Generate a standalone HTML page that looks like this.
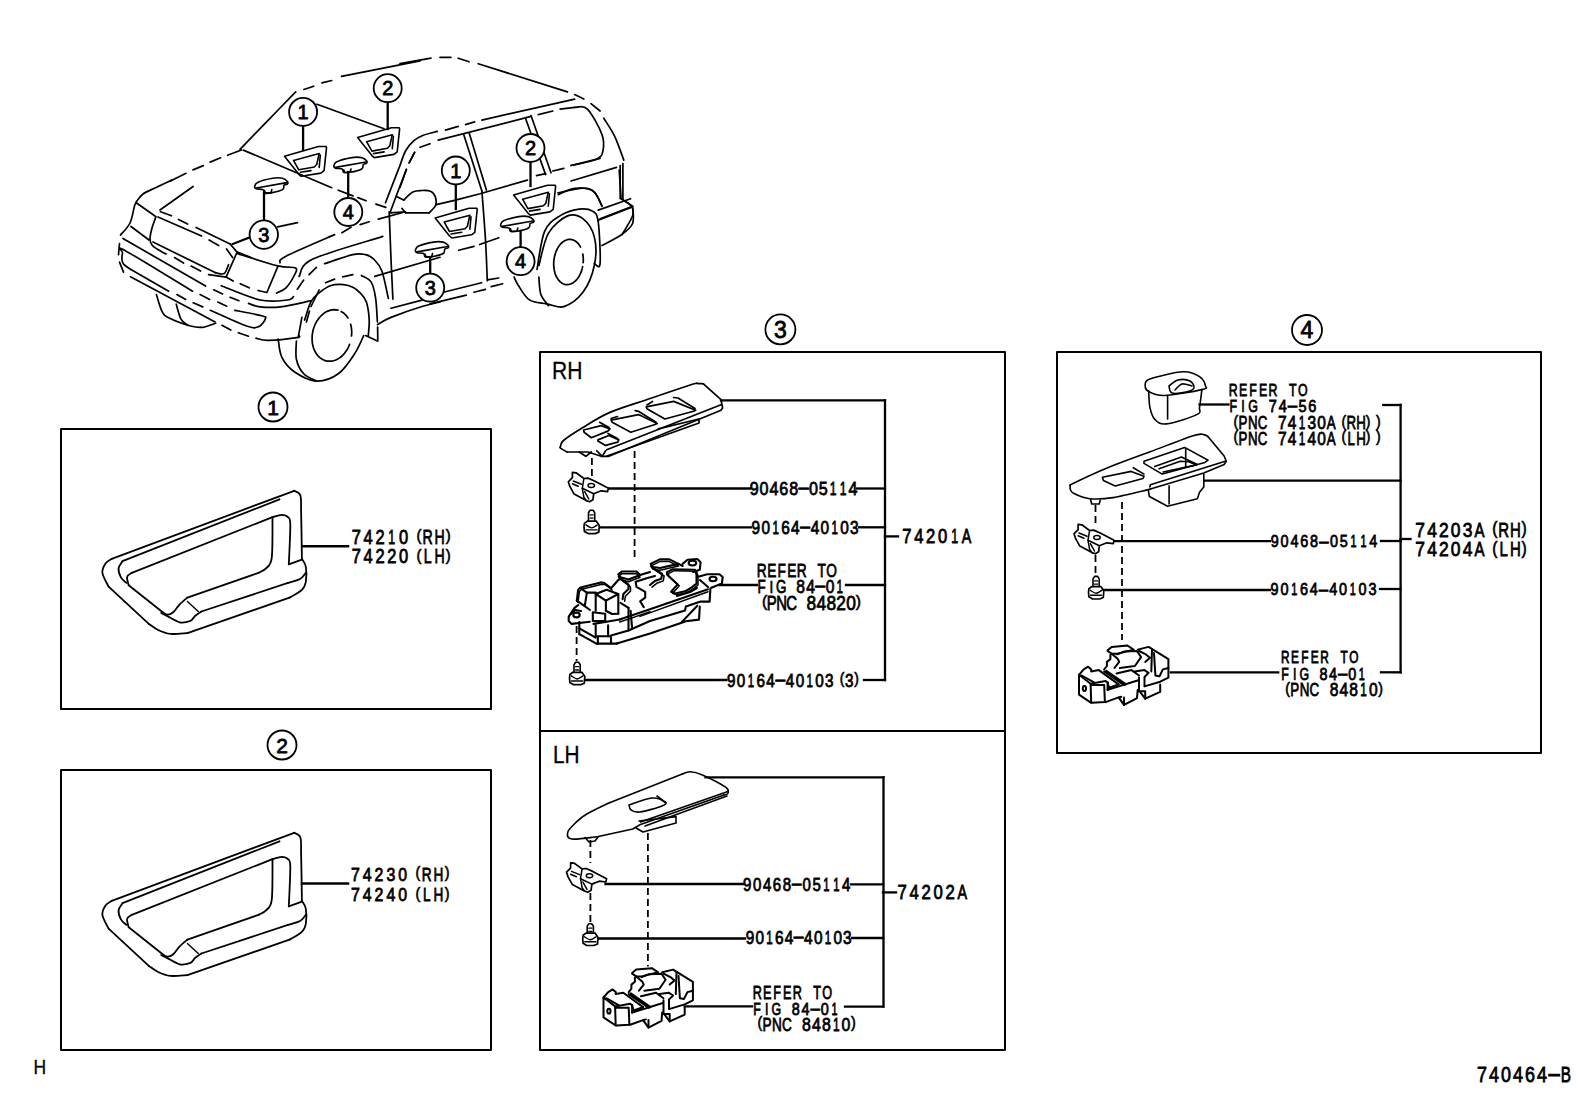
<!DOCTYPE html>
<html><head><meta charset="utf-8"><style>
html,body{margin:0;padding:0;background:#fff;width:1592px;height:1099px;overflow:hidden}
svg{display:block}
text{font-family:"Liberation Sans",sans-serif;fill:#000;stroke:#000;stroke-width:0.8px}
</style></head><body>
<svg width="1592" height="1099" viewBox="0 0 1592 1099">
<rect width="1592" height="1099" fill="#fff"/>
<g fill="none" stroke="#000" stroke-width="1.8" stroke-linecap="round" stroke-linejoin="round">
<g stroke-width="2">
<path d="M61 429 L491 429 L491 709 L61 709Z"/>
<path d="M61 770 L491 770 L491 1050 L61 1050Z"/>
<path d="M540 352 L1005 352 L1005 1050 L540 1050Z" stroke-width="2"/>
<path d="M540 731 L1005 731" stroke-width="2"/>
<path d="M1057 352 L1541 352 L1541 753 L1057 753Z" stroke-width="2"/>
</g>
<g stroke-width="1.7">
<path d="M136.5 201.5 C137.6 200.3 139.9 196.3 143 194 C146.1 191.8 150.2 190.3 155 188 C159.9 185.7 169.2 181.3 172 180"/>
<path d="M170.5 181.1 L186 173.3"/>
<path d="M193 169.9 L203.3 165.6"/>
<path d="M210.2 162.1 L220.6 157.8"/>
<path d="M227.5 155.2 L241.4 150"/>
<path d="M240 149.3 C244.6 144.5 258.6 130.1 267.8 120.6 C277.1 111 291 96.7 295.7 91.9"/>
<path d="M303.9 89.5 L313.7 86.2"/>
<path d="M321.9 82.9 L331.7 80.5"/>
<path d="M341.5 76.4 L420 60.8"/>
<path d="M400 63.7 L430.9 58.2"/>
<path d="M440 57.3 L450.9 57.3"/>
<path d="M458.2 58.2 L469.1 61.8"/>
<path d="M478.2 63.7 L567.4 91.9"/>
<path d="M574.7 94.6 L583.8 99.1"/>
<path d="M591 103.7 L600.1 111"/>
<path d="M603.8 118.2 C605.6 121.3 611.4 129.5 614.7 136.4 C618 143.4 622.3 156.1 623.8 160.1"/>
<path d="M243.3 150.1 L331.7 187.7"/>
<path d="M338.3 190.2 L353 195.9"/>
<path d="M357.9 197.6 L366.1 200.8"/>
<path d="M375.9 204.1 L385.8 207.4"/>
<path d="M317 104.2 L384.1 128.8"/>
<path d="M277.6 226.9 L297.5 222.6"/>
<path d="M232.7 244.2 L248.3 238.1"/>
<path d="M160 210 L193.1 186.5"/>
<path d="M136.5 201.5 C136.2 202.3 135.6 202.4 134.5 206 C133.4 209.6 132.3 218.2 130 223 C127.7 227.9 122.1 233 120.5 235"/>
<path d="M136.5 203 L155 216"/>
<path d="M160.5 211.8 L171.5 215.8"/>
<path d="M178.5 219.5 L187.6 224"/>
<path d="M196.1 227.5 L230.1 244"/>
<path d="M158 217 L201.6 236"/>
<path d="M209.1 240 L218.6 245.5"/>
<path d="M226.6 249 L232.6 257.6"/>
<path d="M156 216.5 C155.4 218.4 153 224.3 152 228 C151 231.8 150 236.2 150 239 C150 241.9 150.9 243.4 152 245 C153.2 246.7 154.7 247.5 157 249 C159.4 250.5 164.5 253.2 166 254.1"/>
<path d="M153 242 L215.1 272.6"/>
<path d="M215.1 272.6 C216.6 272.7 221.8 274.9 224.1 273.6 C226.3 272.2 227.8 266.1 228.6 264.6"/>
<path d="M174.5 257.6 L183.6 263.1"/>
<path d="M191.1 266.1 L200.6 271.1"/>
<path d="M208.6 274.6 L226.1 277.1"/>
<path d="M230.1 244 L237.1 252.1 L250 257.1"/>
<path d="M237.1 252.1 L226.1 277.1 L233.1 281.1"/>
<path d="M232.1 244 L250 237"/>
<path d="M131 226.5 L149 240"/>
<path d="M123 238.5 L205.6 286.1"/>
<path d="M119.5 243.5 L118.5 254.6"/>
<path d="M119.5 262.1 L123.5 272.1"/>
<path d="M192.5 291.2 C181.4 284.5 137.4 257.3 125.7 250.9 C114 244.5 123 250.9 122.6 253 C122.1 255 121.6 260.5 123 263.2 C124.3 265.9 129.2 268.3 130.5 269.3"/>
<path d="M130.5 269.3 L168.7 291.2"/>
<path d="M130.5 276.8 L215.1 321.9"/>
<path d="M156.4 294.6 C157.3 297.3 159.8 307.1 161.8 311 C163.9 314.8 163.9 315.3 168.7 317.8 C173.4 320.3 184.8 324.4 190.5 326 C196.2 327.6 198.6 327.8 202.8 327.3 C207 326.9 213.6 323.9 215.7 323.2"/>
<path d="M176.2 304.1 C177 306.6 179 315.6 181 319.1 C182.9 322.7 186.6 324.3 187.8 325.3"/>
<path d="M176.9 294.6 L185.7 299.4"/>
<path d="M193.2 302.8 L202.8 306.9"/>
<path d="M200.1 294.6 L209.6 299.4"/>
<path d="M213.7 289.8 L222.6 293.9"/>
<path d="M217.8 302.1 L226.7 306.2"/>
<path d="M221.9 325.3 L230.8 330.1"/>
<path d="M238.3 332.8 L248.5 336.2"/>
<path d="M230.1 297.3 L238.9 300.7"/>
<path d="M240.3 283.7 L249.2 287.8"/>
<path d="M234.8 310.3 C239.3 311.2 256.3 314.4 261.5 315.7 C266.6 317.1 266 316.6 265.5 318.5 C265.1 320.3 261.9 325.4 258.7 326.6 C255.5 327.9 254.5 328.7 246.4 326 C238.4 323.2 216.3 312.9 210.3 310.3"/>
<path d="M221.2 285.7 C227.7 288.1 249.1 297.6 260.1 300 C271.1 302.4 281.8 300.6 287.4 300 C292.9 299.5 292.5 297.2 293.5 296.6"/>
<path d="M248.5 303.4 C250.4 304 254.7 306.3 260.1 306.9 C265.4 307.4 272 307.9 280.6 306.9 C289.1 305.8 306.1 301.7 311.3 300.7"/>
<path d="M256 338.2 C258 338.6 261.5 340.4 268.3 340.3 C275.1 340.2 291.8 338.4 296.9 337.6 C302 336.8 298.6 335.9 299 335.5"/>
<path d="M237.6 253.6 C244.3 255.7 268.2 263.5 277.8 265.9 C287.5 268.3 292.8 266.4 295.6 268 C298.3 269.6 295.8 272.2 294.2 275.5 C292.6 278.8 289 284.8 286 287.8 C283.1 290.7 278.1 292.3 276.5 293.2"/>
<path d="M277.8 266.6 L266.9 292.5 L258 290.5"/>
<path d="M280 262.8 C280.9 261.7 276.4 261.1 285.5 256.4 C294.6 251.7 326.4 238.2 334.6 234.6"/>
<path d="M341.9 232.8 L351 227.3"/>
<path d="M360.1 224.6 L369.2 221.8"/>
<path d="M378.3 219.1 L402 212.7"/>
<path d="M299.1 276.4 C301.4 273.5 298.9 265.8 312.8 259.1 C326.8 252.4 371.1 240.2 382.8 236.4"/>
<path d="M324.6 263.7 C329.3 262.2 346 256.1 352.8 254.6 C359.6 253.1 362 253.8 365.5 254.6 C369 255.3 371 256.4 373.7 259.1 C376.4 261.8 379.5 264.5 381.9 271 C384.3 277.5 387.2 293.8 388.3 298.3"/>
<path d="M309.1 274.6 L316.4 267.3"/>
<path d="M297.3 289.2 L303.7 280.1"/>
<path d="M325.5 282.8 L334.6 279.1"/>
<path d="M342.8 276.9 L352.8 274.6"/>
<path d="M361.4 275.5 C363 276.6 368.6 278.3 371 281.9 C373.4 285.5 374.4 290.6 375.5 297.3 C376.6 304 377.1 317.9 377.4 322"/>
<path d="M377.6 327 L377.8 341"/>
<path d="M304.6 320 C305.7 317 308.5 306.4 310.9 301.9 C313.3 297.4 315.8 295.5 319.1 292.8 C322.5 290.1 326.9 286.9 331 285.5 C335.1 284.1 340.1 284.3 343.7 284.6 C347.3 284.9 350.1 285.9 352.8 287.3 C355.5 288.7 357.8 290.4 360.1 292.8 C362.4 295.2 364.9 297.4 366.4 301.9 C367.9 306.4 368.9 314.4 369.2 320 C369.5 325.6 368.4 333 368.3 335.6"/>
<path d="M319.1 290 L311 306.5"/>
<path d="M309.5 311 L306.4 322"/>
<path d="M298.2 337.4 L301.9 317.4"/>
<path d="M365.6 335.6 L377.4 341"/>
<path d="M377.4 324.7 C379.7 323.5 383.6 320.4 391 317.4 C398.5 314.4 413.8 309 422 306.5 C430.1 303.9 437 302.7 440 301.9"/>
<path d="M391 308.3 L422 300.1 L440 295.6"/>
<path d="M278.2 339.2 C278.8 342.3 279.1 352 281.9 357.4 C284.6 362.9 288.8 368 294.6 372 C300.4 375.9 309.2 380.8 316.4 381.1 C323.7 381.4 331.9 378.4 338.3 373.8 C344.6 369.3 350.4 360.2 354.6 353.8 C358.9 347.4 362.2 338.6 363.7 335.6"/>
<path d="M296.4 341 C296.4 344.1 295.2 353.8 296.4 359.2 C297.6 364.7 300.4 370.2 303.7 373.8 C307 377.4 314.3 379.9 316.4 381.1"/>
<path d="M349.6 344.3 L348.6 346.8 L347.4 349.1 L346 351.3 L344.5 353.3 L342.8 355.1 L341.1 356.8 L339.2 358.1 L337.3 359.3 L335.3 360.2 L333.2 360.8 L331.2 361.2 L329.1 361.2 L327.1 361.1 L325.2 360.6 L323.3 359.8 L321.5 358.8 L319.8 357.6 L318.2 356.1 L316.8 354.4 L315.6 352.5 L314.5 350.4 L313.6 348.2 L312.9 345.8 L312.4 343.3 L312.1 340.7 L312.1 338.1 L312.2 335.4 L312.6 332.7 L313.1 330.1 L313.9 327.5 L314.9 325 L316 322.7 L317.3 320.4 L318.8 318.4 L320.4 316.5 L322.1 314.8 L323.9 313.3 L325.9 312.1 L327.8 311.1 L329.9 310.4 L331.9 309.9 L334 309.7 L336 309.9 L338 310.2"/>
<path d="M341.2 311.5 L342.7 312.4 L344.2 313.5 L345.5 314.8 L346.8 316.3 L347.9 318"/>
<path d="M350.6 324.2 L351.2 326.5 L351.5 328.8 L351.7 331.1 L351.7 333.6 L351.5 336"/>
<path d="M389.2 211.8 C389.5 219.7 390.4 244.6 391 259.2 C391.7 273.7 392.6 292.5 392.9 299.2"/>
<path d="M374.7 276.4 L440 257.3"/>
<path d="M437.3 131.4 C434.9 132.1 426.6 133.9 422.7 135.5 C418.8 137.1 416.5 138.3 413.6 140.9 C410.7 143.5 407.8 146.9 405.5 151 C403.2 155.1 401.5 161.6 400 165.5 C398.5 169.4 398.8 168.4 396.4 174.6 C394 180.8 387.3 198.1 385.5 202.8"/>
<path d="M420 147.3 L430 143.7"/>
<path d="M409.1 162.8 L414.6 152.3"/>
<path d="M400 187.4 L406.4 169.2"/>
<path d="M414.6 152.3 L409.1 162.8"/>
<path d="M406.4 169.6 C404.7 173.9 399.1 188.3 396.4 195.5 C393.7 202.7 391.1 209.9 390 212.8"/>
<path d="M445.5 130.1 L458.2 126.4"/>
<path d="M465.5 124.6 L474.6 121.9"/>
<path d="M481.9 120.1 L574.7 99.1"/>
<path d="M438.2 140.1 L531 116.4"/>
<path d="M538.3 114.6 L552.8 111"/>
<path d="M560.1 109.1 L574.7 107.3"/>
<path d="M463.7 134.6 L481.9 191"/>
<path d="M469.1 132.8 L486.4 190.1"/>
<path d="M481.9 191 C482.5 199.2 484.6 225 485.5 240 C486.4 255 487 274 487.3 280.8"/>
<path d="M525.5 118.2 L545.6 174.6"/>
<path d="M531 115.5 L551 172.8"/>
<path d="M436.4 204.6 L455.5 200.1 L480.1 193.7 L527.4 180.1"/>
<path d="M536.5 175.6 L545.6 173.7"/>
<path d="M552.8 171 L563.8 168.3"/>
<path d="M571 165.5 L600.1 158.3"/>
<path d="M571 181 L616.5 167.4"/>
<path d="M574.7 107.3 C576.8 107.6 582.9 104.6 587.4 109.1 C592 113.7 599.4 127.6 602 134.6 C604.5 141.6 603.8 146.9 602.9 151 C602 155.1 601.8 156.8 596.5 159.2 C591.2 161.6 575.3 164.5 571 165.5"/>
<path d="M620.2 165.5 L620.2 198.3"/>
<path d="M622.9 163.7 L622.9 200.1"/>
<path d="M620.2 198.3 C622 199.5 629 202.8 631.1 205.6 C633.2 208.3 633.5 211.3 632.9 214.7 C632.3 218 629.3 222.3 627.4 225.6 C625.6 228.9 622.9 233.2 622 234.7"/>
<path d="M598.3 220.1 L631.1 207.4"/>
<path d="M558.3 194.7 C561 193.6 568.9 188.9 574.7 188.3 C580.4 187.7 588.3 188.1 592.9 191 C597.4 193.9 600.4 203.1 602 205.6"/>
<path d="M396.4 196.4 L403.7 200.1"/>
<path d="M403.7 200.1 C405.2 198.7 409.8 193.5 412.8 191.9 C415.8 190.3 418.9 190.6 421.9 190.5 C424.9 190.4 428.7 190.3 431 191.4 C433.3 192.5 434.8 195 435.5 197.3 C436.2 199.7 436.6 202.9 435.5 205.5 C434.4 208.1 430.2 211.6 429.2 212.8"/>
<path d="M429.2 212.8 L405.5 212.8"/>
<path d="M405.5 212.8 L401.9 208.3"/>
<path d="M390 212.8 L405.5 211.9"/>
<path d="M458.7 250.3 L474 246.4"/>
<path d="M479.7 244.5 L498.8 237.8"/>
<path d="M430 303.8 L466.3 295.2"/>
<path d="M474 292.3 L485.4 289.4"/>
<path d="M491.2 286.6 L502.6 283.7"/>
<path d="M443.4 292.3 L481.6 282.7"/>
<path d="M487.3 279.9 L498.8 278"/>
<path d="M537 269.4 C538.3 263 540.8 240.1 544.7 231.2 C548.5 222.2 554.2 219.5 559.9 215.9 C565.7 212.2 573.6 210 579.1 209.2 C584.5 208.4 589.2 209 592.4 211.1 C595.6 213.2 596.9 212.8 598.2 221.6 C599.4 230.4 600.7 256.6 600.1 263.6 C599.4 270.6 595.3 263.6 594.3 263.6"/>
<path d="M538.9 265.5 C540.5 260.1 543.7 241.3 548.5 233.1 C553.3 224.8 561.9 218.3 567.6 215.9 C573.3 213.5 578.4 215.2 582.9 218.7 C587.3 222.2 592.4 229.1 594.3 236.9 C596.3 244.7 596.3 256.3 594.3 265.5 C592.4 274.8 588 285.5 582.9 292.3 C577.8 299.1 569.8 304.7 563.8 306.6 C557.7 308.5 552.3 304.9 546.6 303.8 C540.8 302.7 534.1 303.1 529.4 299.9 C524.6 296.8 520.5 288.5 517.9 284.7 C515.4 280.8 514.7 278.3 514.1 277"/>
<path d="M538.9 277 C539.2 279.9 539.2 289.4 540.8 294.2 C542.4 299 547.2 303.8 548.5 305.7"/>
<path d="M582.6 266.7 L582.1 268.9 L581.5 271.1 L580.6 273.2 L579.7 275.1 L578.7 277 L577.5 278.6 L576.2 280.1 L574.9 281.4 L573.5 282.5 L572 283.4 L570.5 284 L569 284.4 L567.5 284.6 L566 284.6 L564.5 284.3 L563 283.7 L561.6 282.9 L560.3 281.9 L559.1 280.7 L558 279.3 L557 277.8 L556.1 276 L555.3 274.1 L554.7 272.1 L554.2 269.9 L553.9 267.7 L553.7 265.4 L553.7 263.1 L553.8 260.8 L554.2 258.5 L554.6 256.2 L555.2 254 L555.9 251.8 L556.8 249.8 L557.8 247.9 L558.9 246.2 L560.1 244.6 L561.4 243.2 L562.8 242 L564.3 241 L565.7 240.3 L567.3 239.7 L568.8 239.4 L570.3 239.4 L571.8 239.6 L573.3 240 L574.7 240.7 L576 241.5 L577.3 242.6 L578.5 243.9 L579.6 245.4 L580.5 247.1"/>
<path d="M582.8 254.2 L583.1 256.3 L583.3 258.4 L583.3 260.6 L583.2 262.7"/>
<path d="M558 192.9 C562.2 192.1 576.8 188.3 582.9 188.2 C588.9 188 591.2 189 594.3 192 C597.5 195 600.7 203.9 602 206.3"/>
<path d="M600.1 218.7 L632.6 206.3"/>
<path d="M632.6 206.3 C632.6 209.2 634.5 218.7 632.6 223.5 C630.6 228.3 626.2 231.3 621.1 235 C616 238.6 605.2 243.7 602 245.5"/>
<path d="M619.2 170 L621.1 198.7 L632.6 206.3"/>
<path d="M598.2 210.1 L630.6 198.7"/>
</g>
<g stroke-width="1.6">
<path d="M284.5 156.3 L318.4 146.5 L326.1 146.5 L326.5 147.8 L324.1 170.6 L320.8 173.1 L301.2 176.3 L298.8 174.3Z"/>
<path d="M293.5 160.4 L319.2 153.5 L316.7 164.5 L314.3 167 L298.8 169.8Z"/>
<path d="M320.3 155 L319.2 167.4"/>
<path d="M300.4 172.3 L311 170.6"/>
<path d="M357.6 137.6 L391.5 127.8 L399.2 127.8 L399.6 129.1 L397.2 151.9 L393.9 154.4 L374.3 157.6 L371.9 155.6Z"/>
<path d="M366.6 141.7 L392.3 134.8 L389.8 145.8 L387.4 148.3 L371.9 151.1Z"/>
<path d="M393.4 136.3 L392.3 148.7"/>
<path d="M373.5 153.6 L384.1 151.9"/>
<path d="M435.2 218 L469.1 208.2 L476.8 208.2 L477.2 209.5 L474.8 232.3 L471.5 234.8 L451.9 238 L449.5 236Z"/>
<path d="M444.2 222.1 L469.9 215.2 L467.4 226.2 L465 228.7 L449.5 231.5Z"/>
<path d="M471 216.7 L469.9 229.1"/>
<path d="M451.1 234 L461.7 232.3"/>
<path d="M513.6 195.1 L547.5 185.3 L555.2 185.3 L555.6 186.6 L553.2 209.4 L549.9 211.9 L530.3 215.1 L527.9 213.1Z"/>
<path d="M522.6 199.2 L548.3 192.3 L545.8 203.3 L543.4 205.8 L527.9 208.6Z"/>
<path d="M549.4 193.8 L548.3 206.2"/>
<path d="M529.5 211.1 L540.1 209.4"/>
<path d="M333.9 165.7 C334.2 164.6 334.2 162.9 337.2 161.6 C340.2 160.2 347.8 158.3 351.9 157.6 C356 156.9 359.2 157.1 361.7 157.6 C364.1 158.1 365.8 159.9 366.6 160.8 C367.4 161.8 367.2 162.7 366.6 163.3 C366.1 163.9 364.1 163.6 363.3 164.5 C362.5 165.4 363.9 167.7 361.7 169 C359.5 170.3 353.2 171.8 350.2 172.3 C347.2 172.9 345 172.9 343.7 172.3 C342.4 171.8 343.5 169.7 342.1 169 C340.7 168.3 336.9 168.8 335.5 168.2 C334.1 167.6 333.6 166.8 333.9 165.7Z"/>
<path d="M335.5 167.4 L366 162"/>
<path d="M343.7 169.8 L344.5 172.3 L350.2 172.3 L351 169"/>
<path d="M254.7 186.3 C255 185.2 255 183.5 258 182.2 C261 180.8 268.6 178.9 272.7 178.2 C276.8 177.5 280.1 177.7 282.5 178.2 C284.9 178.7 286.6 180.4 287.4 181.4 C288.2 182.4 288 183.3 287.4 183.9 C286.9 184.5 284.9 184.2 284.1 185.1 C283.3 186 284.7 188.3 282.5 189.6 C280.3 190.9 274 192.3 271 192.9 C268 193.5 265.9 193.5 264.5 192.9 C263.1 192.3 264.3 190.3 262.9 189.6 C261.5 188.9 257.7 189.3 256.3 188.8 C254.9 188.2 254.4 187.4 254.7 186.3Z"/>
<path d="M256.3 188 L286.8 182.6"/>
<path d="M264.5 190.4 L265.3 192.9 L271 192.9 L271.8 189.6"/>
<path d="M415.4 250.2 C415.7 249.1 415.7 247.4 418.7 246.1 C421.7 244.8 429.3 242.8 433.4 242.1 C437.5 241.4 440.8 241.6 443.2 242.1 C445.6 242.6 447.3 244.4 448.1 245.3 C448.9 246.2 448.7 247.2 448.1 247.8 C447.6 248.4 445.6 248.1 444.8 249 C444 249.9 445.4 252.2 443.2 253.5 C441 254.8 434.7 256.2 431.7 256.8 C428.7 257.4 426.5 257.4 425.2 256.8 C423.9 256.2 425 254.2 423.6 253.5 C422.2 252.8 418.4 253.2 417 252.7 C415.6 252.1 415.1 251.3 415.4 250.2Z"/>
<path d="M417 251.9 L447.5 246.5"/>
<path d="M425.2 254.3 L426 256.8 L431.7 256.8 L432.5 253.5"/>
<path d="M500.7 224.7 C501 223.6 501 221.9 504 220.6 C507 219.2 514.6 217.3 518.7 216.6 C522.8 215.9 526 216.1 528.5 216.6 C531 217.1 532.6 218.9 533.4 219.8 C534.2 220.8 534 221.7 533.4 222.3 C532.9 222.9 530.9 222.6 530.1 223.5 C529.3 224.4 530.7 226.7 528.5 228 C526.3 229.3 520 230.8 517 231.3 C514 231.9 511.9 231.9 510.5 231.3 C509.1 230.8 510.3 228.7 508.9 228 C507.5 227.3 503.7 227.8 502.3 227.2 C500.9 226.6 500.4 225.8 500.7 224.7Z"/>
<path d="M502.3 226.4 L532.8 221"/>
<path d="M510.5 228.8 L511.3 231.3 L517 231.3 L517.8 228"/>
</g>
<g stroke-width="2.3" stroke-linecap="square">
<path d="M302.4 546.2 L348 546.2" stroke-width="2.5"/>
<path d="M302 883.6 L348 883.6" stroke-width="2.5"/>
<path d="M721 400.4 L885 400.4"/>
<path d="M885 400.4 L885 680"/>
<path d="M607.5 488.5 L750 488.5"/>
<path d="M857 488.5 L885 488.5"/>
<path d="M599.3 527.4 L751 527.4"/>
<path d="M859 527.3 L885 527.3"/>
<path d="M885 536.4 L898 536.4"/>
<path d="M720 585 L757 585"/>
<path d="M846 585 L885 585"/>
<path d="M584.8 680 L726.4 680"/>
<path d="M864 680 L885 680"/>
<path d="M705.5 777.3 L883.5 777.3"/>
<path d="M883.5 777.3 L883.5 1006.7"/>
<path d="M605.5 884 L743 884"/>
<path d="M851 884.4 L883 884.4"/>
<path d="M598 938.5 L745 938.5"/>
<path d="M852 938 L883 938"/>
<path d="M883 892.4 L896 892.4"/>
<path d="M684.7 1006.3 L752 1006.3"/>
<path d="M845 1006.7 L883 1006.7"/>
<path d="M1199.5 404.5 L1228.5 404.5"/>
<path d="M1383.3 405 L1400.6 405"/>
<path d="M1400.6 405 L1400.6 672.3"/>
<path d="M1204.3 480.6 L1400.6 480.6"/>
<path d="M1112.5 541.2 L1270 541.2"/>
<path d="M1381 541 L1400.6 541"/>
<path d="M1400.6 539 L1410.5 539"/>
<path d="M1103.8 590 L1270 590"/>
<path d="M1380 589 L1400.6 589"/>
<path d="M1170.8 672.3 L1278.2 672.3"/>
<path d="M1381 672.3 L1400.6 672.3"/>
<path d="M303.1 126 L303.1 150"/>
<path d="M387.7 102.4 L387.7 129"/>
<path d="M348.2 197.8 L348.2 172"/>
<path d="M264 220 L264 193"/>
<path d="M455.8 184.5 L455.8 209"/>
<path d="M530.5 162 L530.5 186"/>
<path d="M430.2 273.5 L430.2 257"/>
<path d="M520.6 247 L520.6 231"/>
</g>
<g stroke-width="1.8" stroke-dasharray="7 4" stroke-linecap="butt">
<path d="M591.9 458 L591.9 476"/>
<path d="M634.6 451 L634.6 560"/>
<path d="M576.6 626 L576.6 661"/>
<path d="M590.4 840 L590.4 863"/>
<path d="M590.4 893 L590.4 923"/>
<path d="M647.9 833 L647.9 966.5"/>
<path d="M1095.5 505 L1095.5 524"/>
<path d="M1095.5 555 L1095.5 576"/>
<path d="M1122 502 L1122 640"/>
</g>
<path d="M588.5 521.9 L588.5 512.8 L590.1 510.3 L593.1 510.3 L594.7 512.8 L594.7 521.9" stroke-width="1.6"/><path d="M590.1 514.8 L593.1 514.8" stroke-width="1.3"/><path d="M590.1 518.1 L593.1 518.1" stroke-width="1.3"/><path d="M584.4 523.4 L587.3 521.2 L596.4 521.2 L599.3 525.5 L598.8 532.1 L595.1 533.6 L588.1 533.6 L584.4 531.4 L584 526.9Z" stroke-width="1.7" fill="#fff"/><path d="M585.9 524.9 C586.9 525.4 589.7 527.9 591.6 527.9 C593.5 527.9 596.4 525.4 597.3 524.9" stroke-width="1.4"/><path d="M586.1 529.9 L597.1 529.9" stroke-width="1.4"/>
<path d="M574 673 L574 664.7 L575.6 662.2 L578.6 662.2 L580.2 664.7 L580.2 673" stroke-width="1.6"/><path d="M575.6 666.7 L578.6 666.7" stroke-width="1.3"/><path d="M575.6 670 L578.6 670" stroke-width="1.3"/><path d="M569.9 674.5 L572.8 672.3 L581.9 672.3 L584.8 676.6 L584.3 683.2 L580.6 684.7 L573.6 684.7 L569.9 682.5 L569.5 678Z" stroke-width="1.7" fill="#fff"/><path d="M571.4 676 C572.4 676.5 575.2 679 577.1 679 C579 679 581.9 676.5 582.8 676" stroke-width="1.4"/><path d="M571.6 681 L582.6 681" stroke-width="1.4"/>
<path d="M587.2 933.8 L587.2 926.2 L588.8 923.7 L591.8 923.7 L593.4 926.2 L593.4 933.8" stroke-width="1.6"/><path d="M588.8 928.2 L591.8 928.2" stroke-width="1.3"/><path d="M588.8 931.5 L591.8 931.5" stroke-width="1.3"/><path d="M583.1 935.3 L586 933.1 L595.1 933.1 L598 937.4 L597.5 944 L593.8 945.5 L586.8 945.5 L583.1 943.3 L582.7 938.8Z" stroke-width="1.7" fill="#fff"/><path d="M584.6 936.8 C585.5 937.3 588.4 939.8 590.3 939.8 C592.2 939.8 595 937.3 596 936.8" stroke-width="1.4"/><path d="M584.8 941.8 L595.8 941.8" stroke-width="1.4"/>
<path d="M1093 587.3 L1093 578.9 L1094.6 576.4 L1097.6 576.4 L1099.2 578.9 L1099.2 587.3" stroke-width="1.6"/><path d="M1094.6 580.9 L1097.6 580.9" stroke-width="1.3"/><path d="M1094.6 584.2 L1097.6 584.2" stroke-width="1.3"/><path d="M1088.9 588.8 L1091.8 586.6 L1100.9 586.6 L1103.8 590.9 L1103.3 597.5 L1099.6 599 L1092.6 599 L1088.9 596.8 L1088.5 592.3Z" stroke-width="1.7" fill="#fff"/><path d="M1090.4 590.3 C1091.3 590.8 1094.2 593.3 1096.1 593.3 C1098 593.3 1100.8 590.8 1101.8 590.3" stroke-width="1.4"/><path d="M1090.6 595.3 L1101.6 595.3" stroke-width="1.4"/>
<path d="M572.4 472.4 L576.1 472.8 L583.9 478.5 L588 478.1 L594.5 481 L608.4 488.3 L607.6 491.6 L601.1 490.8 L593.7 493.7 L592.9 499.8 L589.6 501.8 L586.3 500.6 L574.1 494.1 L570 486.7 L568.3 481.8 L572.4 477.7Z" stroke-width="1.7" fill="#fff"/><path d="M583.9 478.5 L582.3 488.3 L583.9 497.3 L586.3 500.6" stroke-width="1.5"/><path d="M582.3 488.3 L593.7 493.7" stroke-width="1.5"/><path d="M573.3 481 L581.4 484.2" stroke-width="1.5"/><path d="M572.4 483.8 L578.2 486.3" stroke-width="1.5"/><path d="M584.7 491.6 L588.8 499" stroke-width="1.5"/><ellipse cx="591.2599018003273" cy="485.46743044189856" rx="3.2" ry="2" stroke-width="1.5"/>
<path d="M570.6 862.8 L574.3 863.2 L582.1 868.9 L586.2 868.5 L592.7 871.4 L606.6 878.7 L605.8 882 L599.3 881.2 L591.9 884.1 L591.1 890.2 L587.8 892.2 L584.5 891 L572.3 884.5 L568.2 877.1 L566.5 872.2 L570.6 868.1Z" stroke-width="1.7" fill="#fff"/><path d="M582.1 868.9 L580.5 878.7 L582.1 887.7 L584.5 891" stroke-width="1.5"/><path d="M580.5 878.7 L591.9 884.1" stroke-width="1.5"/><path d="M571.5 871.4 L579.6 874.6" stroke-width="1.5"/><path d="M570.6 874.2 L576.4 876.7" stroke-width="1.5"/><path d="M582.9 882 L587 889.4" stroke-width="1.5"/><ellipse cx="589.4599018003273" cy="875.8674304418985" rx="3.2" ry="2" stroke-width="1.5"/>
<path d="M1078.1 524.4 L1081.8 524.8 L1089.6 530.5 L1093.7 530.1 L1100.2 533 L1114.1 540.3 L1113.3 543.6 L1106.8 542.8 L1099.4 545.7 L1098.6 551.8 L1095.3 553.8 L1092 552.6 L1079.8 546.1 L1075.7 538.7 L1074 533.8 L1078.1 529.7Z" stroke-width="1.7" fill="#fff"/><path d="M1089.6 530.5 L1088 540.3 L1089.6 549.3 L1092 552.6" stroke-width="1.5"/><path d="M1088 540.3 L1099.4 545.7" stroke-width="1.5"/><path d="M1079 533 L1087.1 536.2" stroke-width="1.5"/><path d="M1078.1 535.8 L1083.9 538.3" stroke-width="1.5"/><path d="M1090.4 543.6 L1094.5 551" stroke-width="1.5"/><ellipse cx="1096.9599018003273" cy="537.4674304418985" rx="3.2" ry="2" stroke-width="1.5"/>
<path d="M294.2 490.8 C295.2 491.6 299.2 492.1 300.4 495.5 C301.5 498.9 300.9 500.3 301.1 510.9 C301.4 521.5 301.8 550.9 301.9 558.9"/><path d="M301.9 558.9 C302.5 560.2 305.1 562.7 305.8 566.6 C306.5 570.5 306.5 578.2 305.8 582.1 C305.1 586 304.6 587.2 301.9 589.8 C299.2 592.4 291.6 596.3 289.5 597.6"/><path d="M289.5 597.6 L187.4 633.1"/><path d="M187.4 633.1 C184.6 633.2 175.3 634.4 170.4 633.9 C165.5 633.4 161.7 631.7 158.1 630 C154.5 628.3 150.4 624.9 148.8 623.9"/><path d="M148.8 623.9 L108.6 586.7"/><path d="M108.6 586.7 C107.6 584.4 102.9 576.7 102.4 572.8 C101.9 568.9 104 565.8 105.5 563.5 C107 561.2 110.7 559.7 111.7 558.9"/><path d="M111.7 558.9 L294.2 490.8"/><path d="M279.5 499.3 L122.5 561.2"/><path d="M122.5 561.2 C121.8 562.4 118.9 565.5 118.6 568.2 C118.3 570.9 119.6 575 120.9 577.4 C122.2 579.8 125.5 582 126.4 582.9"/><path d="M272.5 517.1 L131.8 572.8"/><path d="M131.8 572.8 C131 573.5 127.6 574.8 127.1 576.9 C126.6 579 128.4 583.8 128.7 585.2"/><path d="M128.7 585.2 L163 612.5"/><path d="M163 612.5 C163.8 612.9 166.2 614.7 168 614.6 C169.8 614.5 171.6 613.7 173.5 612 C175.4 610.3 177.4 606.7 179.7 604.3 C182 601.9 186.1 598.7 187.4 597.6"/><path d="M187.4 597.6 L258.6 572.8"/><path d="M258.6 572.8 C259.9 572 264.1 570.8 266.3 568.2 C268.5 565.6 270.8 565.8 271.8 557.3 C272.8 548.8 272.4 523.8 272.5 517.1"/><path d="M272.5 517.1 C274.1 516.7 279.2 514.8 281.8 514.8 C284.4 514.8 286.6 515.4 288 517.1 C289.4 518.8 290.2 517 290.3 524.9 C290.4 532.8 289.1 557.7 288.8 564.3"/><path d="M288.8 564.3 L301.9 559.7"/><path d="M305.8 572.8 C304.8 573.8 303 577.3 300 579 C297 580.7 290 582.2 288 582.9"/><path d="M288 582.9 L201.4 611.5"/><path d="M201.4 611.5 C200.3 612.2 196.8 614.5 195 616 C193.2 617.5 193.1 619.8 190.5 620.8 C187.9 621.8 183.6 623.1 179.7 622.3 C175.8 621.5 170.4 617.6 167.3 616.1 C164.2 614.6 162.2 613.5 161.2 613"/><path d="M187.4 601.4 L198.3 611.5" stroke-width="1.4"/>
<path d="M294.2 832.8 C295.2 833.6 299.2 834.1 300.4 837.5 C301.5 840.9 300.9 842.3 301.1 852.9 C301.4 863.5 301.8 892.9 301.9 900.9"/><path d="M301.9 900.9 C302.5 902.2 305.1 904.7 305.8 908.6 C306.5 912.5 306.5 920.2 305.8 924.1 C305.1 928 304.6 929.2 301.9 931.8 C299.2 934.4 291.6 938.3 289.5 939.6"/><path d="M289.5 939.6 L187.4 975.1"/><path d="M187.4 975.1 C184.6 975.2 175.3 976.4 170.4 975.9 C165.5 975.4 161.7 973.7 158.1 972 C154.5 970.3 150.4 966.9 148.8 965.9"/><path d="M148.8 965.9 L108.6 928.7"/><path d="M108.6 928.7 C107.6 926.4 102.9 918.7 102.4 914.8 C101.9 910.9 104 907.8 105.5 905.5 C107 903.2 110.7 901.7 111.7 900.9"/><path d="M111.7 900.9 L294.2 832.8"/><path d="M279.5 841.3 L122.5 903.2"/><path d="M122.5 903.2 C121.8 904.4 118.9 907.5 118.6 910.2 C118.3 912.9 119.6 917 120.9 919.4 C122.2 921.8 125.5 924 126.4 924.9"/><path d="M272.5 859.1 L131.8 914.8"/><path d="M131.8 914.8 C131 915.5 127.6 916.8 127.1 918.9 C126.6 921 128.4 925.8 128.7 927.2"/><path d="M128.7 927.2 L163 954.5"/><path d="M163 954.5 C163.8 954.9 166.2 956.7 168 956.6 C169.8 956.5 171.6 955.7 173.5 954 C175.4 952.3 177.4 948.7 179.7 946.3 C182 943.9 186.1 940.7 187.4 939.6"/><path d="M187.4 939.6 L258.6 914.8"/><path d="M258.6 914.8 C259.9 914 264.1 912.8 266.3 910.2 C268.5 907.6 270.8 907.8 271.8 899.3 C272.8 890.8 272.4 865.8 272.5 859.1"/><path d="M272.5 859.1 C274.1 858.7 279.2 856.8 281.8 856.8 C284.4 856.8 286.6 857.4 288 859.1 C289.4 860.8 290.2 859 290.3 866.9 C290.4 874.8 289.1 899.7 288.8 906.3"/><path d="M288.8 906.3 L301.9 901.7"/><path d="M305.8 914.8 C304.8 915.8 303 919.3 300 921 C297 922.7 290 924.2 288 924.9"/><path d="M288 924.9 L201.4 953.5"/><path d="M201.4 953.5 C200.3 954.2 196.8 956.5 195 958 C193.2 959.5 193.1 961.8 190.5 962.8 C187.9 963.8 183.6 965.1 179.7 964.3 C175.8 963.5 170.4 959.6 167.3 958.1 C164.2 956.6 162.2 955.5 161.2 955"/><path d="M187.4 943.4 L198.3 953.5" stroke-width="1.4"/>
<g stroke-width="1.7">
<path d="M567.1 452 C566 451.4 561.6 449 560.5 448.1 C559.4 447.2 560 447.8 560.5 446.5 C561 445.2 559.8 443.6 563.5 440.5 C567.2 437.4 574.8 432.5 582.5 427.8 C590.2 423.1 598.6 417.3 610 412.4 C621.4 407.5 637.3 403 651 398.3 C664.7 393.6 684.6 386.8 692.4 384.3 C700.2 381.9 696.2 383.7 698 383.6 C699.8 383.5 702.5 383.8 703.4 383.8"/>
<path d="M703.4 383.8 L721 399.7 L722.6 408 L721 410.2 L608.9 456.3 L601.2 456.3 L588 452 L567.1 452"/>
<path d="M721 404.7 L606.7 449.8"/>
<path d="M658.3 428.9 L699 419 L699 423 L607 456"/>
<path d="M579.2 452 L585.8 456.3 L591.3 452"/>
<path d="M596.8 450.8 L602.3 456.3 L605.6 450.8"/>
<path d="M646.2 406.9 L673.7 401.4 L695.7 410.2 L693.5 411.3 L664.9 419 L647.3 409.1 L646.2 406.9"/>
<path d="M647 405 L652.5 401.5"/>
<path d="M673.7 397.5 L678 398 L695 408.5"/>
<path d="M611.1 420.1 L638.5 414.6 L657.2 423.4 L655 424.5 L630.8 432.2 L612.2 422.3 L611.1 420.1"/>
<path d="M611.1 418.5 L617.5 416.5"/>
<path d="M635.2 410.7 L638.5 411.3 L656 422.3"/>
<path d="M583.6 430 L601.2 425.6 L610 428.9 L607.8 431.1 L591.3 437.7 L584.1 432.2 L583.6 430"/>
<path d="M599.6 422.3 L609 427.5"/>
<path d="M597.9 439.9 L608.9 435.5 L618.8 439.9 L617.7 442.1 L605.6 445.4 L597.9 441 L597.9 439.9"/>
<path d="M608 433.5 L617.5 438.5"/>
</g>
<g stroke-width="1.6">
<path d="M597.2 836.7 C593 837.1 576.6 839.8 571.7 839 C566.8 838.2 567.1 834.8 567.8 832.1 C568.4 829.4 572.5 825.8 575.6 822.8 C578.7 819.8 580.7 817.6 586.4 814.3 C592.1 810.9 605.7 804.6 609.6 802.7"/>
<path d="M609.6 802.7 L682.3 774.1"/>
<path d="M682.3 774.1 C683.6 773.7 686.6 771.7 690 771.8 C693.4 771.9 696.5 772.3 702.4 774.9 C708.3 777.5 721.4 784.1 725.6 787.2 C729.9 790.3 728.2 792.1 727.9 793.4 C727.6 794.7 724.6 794.7 724 795"/>
<path d="M724 795 L640.5 824.4 L632.8 829 L597.2 836.7"/>
<path d="M727.9 791.5 L640.5 822"/>
<path d="M727 796 L645 826"/>
<path d="M639 821 L676 816.6 L676 823 L643 832 L636 828"/>
<path d="M585 837.5 L589 842 L595 841 L598 837"/>
<path d="M629 805 C632.8 803.8 646 798.5 652 798 C658 797.5 663.3 800.7 665 802 C666.7 803.3 666.2 804.3 662 806 C657.8 807.7 645.2 811.3 640 812 C634.8 812.7 632.8 811.2 631 810 C629.2 808.8 629.3 805.8 629 805"/>
<path d="M657 796 L666 803"/>
</g>
<g stroke-width="1.6">
<path d="M1145.1 384.8 C1145.9 383.8 1143.6 381.1 1149.9 378.9 C1156.2 376.7 1174.7 372.2 1183 371.8 C1191.3 371.4 1195.8 374.2 1199.5 376.6 C1203.2 379 1205.1 383.8 1205.5 386 C1205.9 388.2 1208.8 388 1201.9 389.6 C1195 391.2 1173.2 395.3 1164.1 395.5 C1155 395.7 1150.7 392.5 1147.5 390.7 C1144.3 388.9 1145.5 385.8 1145.1 384.8"/>
<path d="M1148.7 390.7 C1148.9 393.5 1148.9 402.6 1149.9 407.3 C1150.9 412 1151.8 416.3 1154.6 419.1 C1157.3 421.9 1159.3 424.7 1166.4 423.9 C1173.5 423.1 1191.7 417.2 1197.2 414.4 C1202.7 411.6 1198.7 411.4 1199.5 407.3 C1200.3 403.2 1201.5 392.6 1201.9 389.6"/>
<path d="M1167.6 395.5 L1167.6 419.1"/>
<path d="M1169 386 C1170.5 385 1174.5 380.8 1178 380 C1181.5 379.2 1187.3 379.7 1190 381 C1192.7 382.3 1194.7 386.2 1194 388 C1193.3 389.8 1189.7 391.2 1186 392 C1182.3 392.8 1174.8 394 1172 393 C1169.2 392 1169.5 387.2 1169 386"/>
<path d="M1175 390 C1176.2 389 1179.2 384.7 1182 384 C1184.8 383.3 1190.3 385.7 1192 386"/>
<path d="M1070.3 489.1 C1070.3 488.6 1069.8 486.9 1070.3 485.9 C1070.8 484.9 1067.3 486.2 1073.5 483.2 C1079.7 480.2 1095 472.9 1107.7 467.7 C1120.5 462.5 1135.8 457.1 1150 451.8 C1164.2 446.5 1184.1 438.6 1193.1 435.7 C1202.1 432.8 1201.3 434.4 1203.8 434.6 C1206.3 434.8 1207.4 436.4 1208.1 436.7"/>
<path d="M1208.1 436.7 L1224.1 456 L1226.3 461.3 L1224.1 464.5 L1203.8 473.1 L1150.4 489.1"/>
<path d="M1150.4 489.1 C1144.2 490.5 1123.2 496 1113.1 497.6 C1103 499.2 1096.2 499.4 1089.6 498.7 C1083 498 1076.7 494.9 1073.5 493.3 C1070.3 491.7 1070.8 489.8 1070.3 489.1"/>
<path d="M1225.2 461.3 L1150.4 484.8 L1149.9 486.9"/>
<path d="M1144 461.3 L1184.6 447.4 L1208.1 460.2 L1204.9 462.4 L1162.2 474.1 L1144 463.4 L1144 461.3"/>
<path d="M1154.7 466.6 L1181.4 457 L1197.4 464.5 L1193.1 465.6 L1163.2 472"/>
<path d="M1159 468.8 L1180.3 461.3 L1188.9 461.8 L1196.3 465"/>
<path d="M1185.7 448.5 L1185.7 466.6"/>
<path d="M1102.4 477.3 L1131.2 471.4 L1144 476.3 L1143 478.4 L1115.2 485.9 L1103.4 480.5 L1102.4 477.3"/>
<path d="M1133.3 467.7 L1144 474.1"/>
<path d="M1148.3 490.1 L1149.4 496.5 L1167.5 506.2 L1197.4 498.7 L1199.5 492.3 L1203.8 487 L1203.8 474.1"/>
<path d="M1169.1 485.9 L1169.1 504"/>
<path d="M1090.6 499.7 L1091.7 504 L1099.2 504 L1100.2 500.3"/>
</g>
<g stroke-width="1.6">
<g stroke-width="2.1">
<path d="M578.2 605 L574.6 607.9 L568.7 616.6 L568.7 621 L571.7 623.9 L589.9 621.7"/>
<ellipse cx="576.5" cy="615" rx="3.2" ry="2.4"/>
<path d="M571 614 L575 610 L581 611"/>
<path d="M579.3 628.3 L595.7 637.7"/>
<path d="M579.3 634.1 L596.4 643.6"/>
<path d="M579.3 622 L579.3 634.1"/>
<path d="M595.7 625.4 L595.7 636.3"/>
<path d="M608.1 625.4 L608.1 636.3"/>
<path d="M596.4 636.3 L611 636.3"/>
<path d="M597.9 637.7 L597.9 643.6"/>
<path d="M611 637.7 L611 643.6"/>
<path d="M596.4 643.6 L617.5 643.6"/>
<path d="M593.5 623.9 L611 621 L619.7 619.5"/>
<path d="M619.7 619.5 L628.5 616.6 L650 609.3 L708 589.3"/>
<path d="M611 635.5 L628.5 630.5 L650 621 L685 610.6 L685.9 606.5 L700.6 601.6 L709.6 601.6 L710.4 588.5"/>
<path d="M616.8 643.6 L650 633.4 L681 622.9 L685.9 621.3 L699 619.6 L699.8 606.5"/>
<path d="M681 622.9 L697.3 605.7"/>
<path d="M628.5 607.9 L628.5 630.5"/>
<path d="M630.6 610.8 L632.1 628.3"/>
<path d="M620.5 602.8 L628.5 607.9"/>
<path d="M576.8 600.6 L578.2 589.7 L580.4 587.5 L600.8 582.4 L603.7 582.7 L611 588.2"/>
<path d="M580.4 588.2 L586.9 592.6 L584.8 605.7"/>
<path d="M576.8 600.6 L584 605.7 L590 610"/>
<path d="M586.9 592.6 L595.7 592.6"/>
<path d="M595.7 594 L606.6 589.7 L618.3 594 L605.9 600.6 L595.7 594"/>
<path d="M595.7 594 L595.7 610.8"/>
<path d="M605.9 600.6 L605.9 610.8"/>
<path d="M618.3 594 L618.3 613.7"/>
<path d="M592.8 612.2 L605.2 613.7 L605.2 621 L592.8 621 L592.8 612.2"/>
<path d="M605.9 610.8 L612 614 L618.3 613.7"/>
<path d="M618.3 574.4 L621.9 571.5 L636.5 571.5 L640.1 575.1 L628.5 579.5 L620.5 577.3 L618.3 574.4"/>
<path d="M620.5 578.7 L628.5 584.6 L628.5 588.9 L623.4 594 L622.6 599.1"/>
<path d="M611 588.2 L618.3 580 L620.5 578.7"/>
<path d="M650.6 563.9 L659.7 559.4 L669.5 559.4 L678.5 563.9 L660 568 L653 567 L650.6 563.9"/>
<path d="M653.1 568 L662.1 573.8 L661.3 578.7 L654.7 581.1 L650 585"/>
<path d="M635.7 581.7 L647.4 578 L655 576"/>
<path d="M635.7 582.4 L636.5 586.8 L645.2 591.8 L645.2 597.7 L640.1 601.3 L643.8 607.1"/>
<path d="M678.5 563.9 L682.6 566"/>
<path d="M640.1 575.1 L650 572"/>
<path d="M667 572.1 L672.8 569.2 L694.9 569.7 L696.5 574.6 L696.5 583.6 L692.4 586.9 L685.9 591 L675.2 593.4 L671.1 591.8 L677.7 584.4 L667 574.6 L667 572.1"/>
<path d="M677 596 L690 592 L697 588"/>
<path d="M682.6 563.9 L687.5 559.8 L697.3 559 L700.6 562.3 L699.8 569.7 L693.2 572.1"/>
<ellipse cx="692.4" cy="563.1" rx="3.8" ry="2.4"/>
<path d="M697.3 577 L707.2 574.2 L719.4 574.2 L722.7 577 L721.9 583.6 L711.3 587.7"/>
<ellipse cx="713" cy="579" rx="3.5" ry="2.2"/>
<path d="M700 580 L708 587"/>
<path d="M618.3 576.6 L621.9 573.7 L636.5 573.7 L640.1 577.3 L628.5 581.7 L620.5 579.5 L618.3 576.6" stroke-width="1.5"/>
<path d="M650.6 566.1 L659.7 561.6 L669.5 561.6 L678.5 566.1 L660 570.2 L653 569.2 L650.6 566.1" stroke-width="1.5"/>
<path d="M668.5 573.6 L674.3 570.7 L696.4 571.2 L698 576.1 L698 585.1 L693.9 588.4 L687.4 592.5 L676.7 594.9 L672.6 593.3 L679.2 585.9 L668.5 576.1 L668.5 573.6" stroke-width="1.5"/>
<path d="M578 602.4 L579.4 591.5 L581.6 589.3 L602 584.2 L604.9 584.5 L612.2 590" stroke-width="1.5"/>
<path d="M640 616.4 L708 591.8" stroke-width="1.5"/>
<path d="M619.7 622 L628.5 619.1 L650 611.8" stroke-width="1.5"/>
<path d="M622.5 580.9 L630.5 586.8 L630.5 591.1 L625.4 596.2 L624.6 601.3" stroke-width="1.5"/>
<path d="M655.1 570.2 L664.1 576 L663.3 580.9 L656.7 583.3 L652 587.2" stroke-width="1.5"/>
</g>
<g stroke-width="2">
<path d="M603.5 997.5 L615.1 1006.4 L615.7 1025.5 L603.5 1017.3 L603.5 997.5"/>
<ellipse cx="608.9215017064846" cy="1011.1945392491467" rx="1.6" ry="2.4"/>
<path d="M615.7 1007.8 L628.7 1007.8 L629.4 1024.8 L616.4 1025.5"/>
<path d="M603.5 997.5 L608.2 992.1 L612.7 989.4 L615.7 992.1 L615.7 994.1 L623.3 992.8 L643.1 1007.1 L633.5 1010.5 L632.1 1005.1 L630.1 1003.7 L615.1 1006.4"/>
<path d="M606.2 998.2 L618.5 1005.1"/>
<path d="M632.1 1005.1 L632.1 1012.6 L643.1 1007.1"/>
<path d="M632.1 1012.6 L662.8 1003"/>
<path d="M630.1 1024.8 L643.1 1020.1 L648.5 1027.6 L661.5 1020.8 L662.2 1012.6"/>
<path d="M643.1 1020.1 L645.8 1019.4"/>
<path d="M648.5 1020.1 L648.5 1027.6"/>
<path d="M628.7 994.1 L648.5 1007.8 L650.6 1007.1 L630.8 993.4"/>
<path d="M663.5 1000.3 L663.5 1013.2 L669.7 1021.4 L684.7 1014.6 L684.7 1007.1"/>
<path d="M669 999.6 L669 1009.1 L684.7 1004.4 L692.9 1000.3 L692.9 981.8 L673.1 969.6 L662.2 972.3"/>
<path d="M662.8 1013.9 L669.7 1013.9 L669.7 1021.4"/>
<path d="M632.1 973 L636.2 969.6 L651.9 968.2 L658.1 972.3 L641.7 976.4 L636.2 976.4 L632.1 973.7"/>
<path d="M636.2 976.4 L642.4 981.8 L643.7 984.6 L639 990.7"/>
<path d="M634.9 977.7 L634.9 981.8 L631.4 984.6 L631.4 988.7 L628.7 992.1"/>
<path d="M641.7 977.1 L648.5 974.3 L661.5 973.7 L665.6 979.8 L659.4 988.7 L649.9 990 L644.4 990.7"/>
<path d="M676.5 972.3 L675.8 994.1"/>
<path d="M678.5 975.7 L679.9 998.2 L684 998.9 L687.4 992.1 L692.9 990.7"/>
<path d="M641 996.2 L656 992.8 L663.5 998.2"/>
<path d="M663.5 973.7 L670.4 977.1 L674.5 980.5 L669.7 984.6"/>
<path d="M659.4 994.1 L669 992.8 L673.1 995.5 L669.7 998.9"/>
<path d="M1079 674.8 L1090.6 683.7 L1091.2 702.8 L1079 694.6 L1079 674.8"/>
<ellipse cx="1084.4215017064846" cy="688.4945392491467" rx="1.6" ry="2.4"/>
<path d="M1091.2 685.1 L1104.2 685.1 L1104.9 702.1 L1091.9 702.8"/>
<path d="M1079 674.8 L1083.7 669.4 L1088.2 666.7 L1091.2 669.4 L1091.2 671.4 L1098.8 670.1 L1118.6 684.4 L1109 687.8 L1107.6 682.4 L1105.6 681 L1090.6 683.7"/>
<path d="M1081.7 675.5 L1094 682.4"/>
<path d="M1107.6 682.4 L1107.6 689.9 L1118.6 684.4"/>
<path d="M1107.6 689.9 L1138.3 680.3"/>
<path d="M1105.6 702.1 L1118.6 697.4 L1124 704.9 L1137 698.1 L1137.7 689.9"/>
<path d="M1118.6 697.4 L1121.3 696.7"/>
<path d="M1124 697.4 L1124 704.9"/>
<path d="M1104.2 671.4 L1124 685.1 L1126.1 684.4 L1106.3 670.7"/>
<path d="M1139 677.6 L1139 690.5 L1145.2 698.7 L1160.2 691.9 L1160.2 684.4"/>
<path d="M1144.5 676.9 L1144.5 686.4 L1160.2 681.7 L1168.4 677.6 L1168.4 659.1 L1148.6 646.9 L1137.7 649.6"/>
<path d="M1138.3 691.2 L1145.2 691.2 L1145.2 698.7"/>
<path d="M1107.6 650.3 L1111.7 646.9 L1127.4 645.5 L1133.6 649.6 L1117.2 653.7 L1111.7 653.7 L1107.6 651"/>
<path d="M1111.7 653.7 L1117.9 659.1 L1119.2 661.9 L1114.5 668"/>
<path d="M1110.4 655 L1110.4 659.1 L1106.9 661.9 L1106.9 666 L1104.2 669.4"/>
<path d="M1117.2 654.4 L1124 651.6 L1137 651 L1141.1 657.1 L1134.9 666 L1125.4 667.3 L1119.9 668"/>
<path d="M1152 649.6 L1151.3 671.4"/>
<path d="M1154 653 L1155.4 675.5 L1159.5 676.2 L1162.9 669.4 L1168.4 668"/>
<path d="M1116.5 673.5 L1131.5 670.1 L1139 675.5"/>
<path d="M1139 651 L1145.9 654.4 L1150 657.8 L1145.2 661.9"/>
<path d="M1134.9 671.4 L1144.5 670.1 L1148.6 672.8 L1145.2 676.2"/>
</g>
</g>
<circle cx="273" cy="407" r="14.5" stroke-width="1.8" fill="#fff"/><text x="273" y="414.6" font-size="21" text-anchor="middle" fill="#000" stroke="none">1</text>
<circle cx="282" cy="745" r="14.5" stroke-width="1.8" fill="#fff"/><text x="282" y="752.6" font-size="21" text-anchor="middle" fill="#000" stroke="none">2</text>
<circle cx="780.4" cy="329.4" r="15" stroke-width="1.8" fill="#fff"/><text x="780.4" y="337.7" font-size="23" text-anchor="middle" fill="#000" stroke="none">3</text>
<circle cx="1307" cy="330" r="15" stroke-width="1.8" fill="#fff"/><text x="1307" y="338.3" font-size="23" text-anchor="middle" fill="#000" stroke="none">4</text>
<circle cx="303.1" cy="111.9" r="14" stroke-width="1.8" fill="#fff"/><text x="303.1" y="119.1" font-size="20" text-anchor="middle" fill="#000" stroke="none">1</text>
<circle cx="387.7" cy="88.2" r="14" stroke-width="1.8" fill="#fff"/><text x="387.7" y="95.4" font-size="20" text-anchor="middle" fill="#000" stroke="none">2</text>
<circle cx="348.3" cy="212" r="14" stroke-width="1.8" fill="#fff"/><text x="348.3" y="219.2" font-size="20" text-anchor="middle" fill="#000" stroke="none">4</text>
<circle cx="263.8" cy="234.6" r="14.2" stroke-width="1.8" fill="#fff"/><text x="263.8" y="241.8" font-size="20" text-anchor="middle" fill="#000" stroke="none">3</text>
<circle cx="455.8" cy="170.5" r="14" stroke-width="1.8" fill="#fff"/><text x="455.8" y="177.7" font-size="20" text-anchor="middle" fill="#000" stroke="none">1</text>
<circle cx="530.5" cy="148" r="14" stroke-width="1.8" fill="#fff"/><text x="530.5" y="155.2" font-size="20" text-anchor="middle" fill="#000" stroke="none">2</text>
<circle cx="430.2" cy="287.7" r="14" stroke-width="1.8" fill="#fff"/><text x="430.2" y="294.9" font-size="20" text-anchor="middle" fill="#000" stroke="none">3</text>
<circle cx="520.6" cy="261.2" r="14" stroke-width="1.8" fill="#fff"/><text x="520.6" y="268.4" font-size="20" text-anchor="middle" fill="#000" stroke="none">4</text>
</g>
<g>
<text transform="translate(356.4 543.5) scale(0.840 1.000)" font-size="19.62" text-anchor="middle">7</text>
<text transform="translate(368.2 543.5) scale(0.840 1.000)" font-size="19.62" text-anchor="middle">4</text>
<text transform="translate(380 543.5) scale(0.840 1.000)" font-size="19.62" text-anchor="middle">2</text>
<text transform="translate(391.8 543.5) scale(0.630 1.000)" font-size="19.62" text-anchor="middle">1</text>
<text transform="translate(403.7 543.5) scale(0.840 1.000)" font-size="19.62" text-anchor="middle">0</text>
<text transform="translate(418.9 541.1) scale(0.756 0.848)" font-size="19.62" text-anchor="middle">(</text>
<text transform="translate(427.7 543.5) scale(0.720 1.000)" font-size="19.62" text-anchor="middle">R</text>
<text transform="translate(439.5 543.5) scale(0.720 1.000)" font-size="19.62" text-anchor="middle">H</text>
<text transform="translate(448.2 541.1) scale(0.756 0.848)" font-size="19.62" text-anchor="middle">)</text>
<text transform="translate(356.4 563) scale(0.840 1.000)" font-size="19.62" text-anchor="middle">7</text>
<text transform="translate(368.2 563) scale(0.840 1.000)" font-size="19.62" text-anchor="middle">4</text>
<text transform="translate(380 563) scale(0.840 1.000)" font-size="19.62" text-anchor="middle">2</text>
<text transform="translate(391.8 563) scale(0.840 1.000)" font-size="19.62" text-anchor="middle">2</text>
<text transform="translate(403.7 563) scale(0.840 1.000)" font-size="19.62" text-anchor="middle">0</text>
<text transform="translate(418.9 560.6) scale(0.756 0.848)" font-size="19.62" text-anchor="middle">(</text>
<text transform="translate(427.7 563) scale(0.720 1.000)" font-size="19.62" text-anchor="middle">L</text>
<text transform="translate(439.5 563) scale(0.720 1.000)" font-size="19.62" text-anchor="middle">H</text>
<text transform="translate(448.2 560.6) scale(0.756 0.848)" font-size="19.62" text-anchor="middle">)</text>
<text transform="translate(355.4 880.6) scale(0.840 1.000)" font-size="18.90" text-anchor="middle">7</text>
<text transform="translate(367.2 880.6) scale(0.840 1.000)" font-size="18.90" text-anchor="middle">4</text>
<text transform="translate(379 880.6) scale(0.840 1.000)" font-size="18.90" text-anchor="middle">2</text>
<text transform="translate(390.8 880.6) scale(0.840 1.000)" font-size="18.90" text-anchor="middle">3</text>
<text transform="translate(402.7 880.6) scale(0.840 1.000)" font-size="18.90" text-anchor="middle">0</text>
<text transform="translate(417.9 878.3) scale(0.756 0.852)" font-size="18.90" text-anchor="middle">(</text>
<text transform="translate(426.7 880.6) scale(0.720 1.000)" font-size="18.90" text-anchor="middle">R</text>
<text transform="translate(438.5 880.6) scale(0.720 1.000)" font-size="18.90" text-anchor="middle">H</text>
<text transform="translate(447.2 878.3) scale(0.756 0.852)" font-size="18.90" text-anchor="middle">)</text>
<text transform="translate(355.4 901) scale(0.840 1.000)" font-size="18.90" text-anchor="middle">7</text>
<text transform="translate(367.2 901) scale(0.840 1.000)" font-size="18.90" text-anchor="middle">4</text>
<text transform="translate(379 901) scale(0.840 1.000)" font-size="18.90" text-anchor="middle">2</text>
<text transform="translate(390.8 901) scale(0.840 1.000)" font-size="18.90" text-anchor="middle">4</text>
<text transform="translate(402.7 901) scale(0.840 1.000)" font-size="18.90" text-anchor="middle">0</text>
<text transform="translate(417.9 898.7) scale(0.756 0.852)" font-size="18.90" text-anchor="middle">(</text>
<text transform="translate(426.7 901) scale(0.720 1.000)" font-size="18.90" text-anchor="middle">L</text>
<text transform="translate(438.5 901) scale(0.720 1.000)" font-size="18.90" text-anchor="middle">H</text>
<text transform="translate(447.2 898.7) scale(0.756 0.852)" font-size="18.90" text-anchor="middle">)</text>
<text transform="translate(754.2 495) scale(0.840 1.000)" font-size="19.19" text-anchor="middle">9</text>
<text transform="translate(764.1 495) scale(0.840 1.000)" font-size="19.19" text-anchor="middle">0</text>
<text transform="translate(774 495) scale(0.840 1.000)" font-size="19.19" text-anchor="middle">4</text>
<text transform="translate(783.8 495) scale(0.840 1.000)" font-size="19.19" text-anchor="middle">6</text>
<text transform="translate(793.7 495) scale(0.840 1.000)" font-size="19.19" text-anchor="middle">8</text>
<text transform="translate(803.6 494.2) scale(2.000 1.000)" font-size="19.19" text-anchor="middle">-</text>
<text transform="translate(813.4 495) scale(0.840 1.000)" font-size="19.19" text-anchor="middle">0</text>
<text transform="translate(823.3 495) scale(0.840 1.000)" font-size="19.19" text-anchor="middle">5</text>
<text transform="translate(833.1 495) scale(0.630 1.000)" font-size="19.19" text-anchor="middle">1</text>
<text transform="translate(843 495) scale(0.630 1.000)" font-size="19.19" text-anchor="middle">1</text>
<text transform="translate(852.9 495) scale(0.840 1.000)" font-size="19.19" text-anchor="middle">4</text>
<text transform="translate(755.9 534.2) scale(0.840 1.000)" font-size="18.31" text-anchor="middle">9</text>
<text transform="translate(765.8 534.2) scale(0.840 1.000)" font-size="18.31" text-anchor="middle">0</text>
<text transform="translate(775.6 534.2) scale(0.630 1.000)" font-size="18.31" text-anchor="middle">1</text>
<text transform="translate(785.5 534.2) scale(0.840 1.000)" font-size="18.31" text-anchor="middle">6</text>
<text transform="translate(795.3 534.2) scale(0.840 1.000)" font-size="18.31" text-anchor="middle">4</text>
<text transform="translate(805.1 533.4) scale(2.000 1.000)" font-size="18.31" text-anchor="middle">-</text>
<text transform="translate(815 534.2) scale(0.840 1.000)" font-size="18.31" text-anchor="middle">4</text>
<text transform="translate(824.8 534.2) scale(0.840 1.000)" font-size="18.31" text-anchor="middle">0</text>
<text transform="translate(834.7 534.2) scale(0.630 1.000)" font-size="18.31" text-anchor="middle">1</text>
<text transform="translate(844.5 534.2) scale(0.840 1.000)" font-size="18.31" text-anchor="middle">0</text>
<text transform="translate(854.4 534.2) scale(0.840 1.000)" font-size="18.31" text-anchor="middle">3</text>
<text transform="translate(906.8 543) scale(0.840 1.000)" font-size="19.77" text-anchor="middle">7</text>
<text transform="translate(918.8 543) scale(0.840 1.000)" font-size="19.77" text-anchor="middle">4</text>
<text transform="translate(930.7 543) scale(0.840 1.000)" font-size="19.77" text-anchor="middle">2</text>
<text transform="translate(942.7 543) scale(0.840 1.000)" font-size="19.77" text-anchor="middle">0</text>
<text transform="translate(954.6 543) scale(0.630 1.000)" font-size="19.77" text-anchor="middle">1</text>
<text transform="translate(966.6 543) scale(0.720 1.000)" font-size="19.77" text-anchor="middle">A</text>
<text transform="translate(761.7 576.8) scale(0.720 1.000)" font-size="19.04" text-anchor="middle">R</text>
<text transform="translate(771.7 576.8) scale(0.720 1.000)" font-size="19.04" text-anchor="middle">E</text>
<text transform="translate(781.7 576.8) scale(0.720 1.000)" font-size="19.04" text-anchor="middle">F</text>
<text transform="translate(791.7 576.8) scale(0.720 1.000)" font-size="19.04" text-anchor="middle">E</text>
<text transform="translate(801.6 576.8) scale(0.720 1.000)" font-size="19.04" text-anchor="middle">R</text>
<text transform="translate(821.6 576.8) scale(0.720 1.000)" font-size="19.04" text-anchor="middle">T</text>
<text transform="translate(831.6 576.8) scale(0.720 1.000)" font-size="19.04" text-anchor="middle">O</text>
<text transform="translate(761.6 592.8) scale(0.720 1.000)" font-size="18.60" text-anchor="middle">F</text>
<text transform="translate(771.4 592.8) scale(0.720 0.920)" font-size="18.60" text-anchor="middle">I</text>
<text transform="translate(781.2 592.8) scale(0.720 1.000)" font-size="18.60" text-anchor="middle">G</text>
<text transform="translate(800.7 592.8) scale(0.840 1.000)" font-size="18.60" text-anchor="middle">8</text>
<text transform="translate(810.5 592.8) scale(0.840 1.000)" font-size="18.60" text-anchor="middle">4</text>
<text transform="translate(820.2 592) scale(2.000 1.000)" font-size="18.60" text-anchor="middle">-</text>
<text transform="translate(830 592.8) scale(0.840 1.000)" font-size="18.60" text-anchor="middle">0</text>
<text transform="translate(839.8 592.8) scale(0.630 1.000)" font-size="18.60" text-anchor="middle">1</text>
<text transform="translate(764.5 607.4) scale(0.756 0.843)" font-size="20.64" text-anchor="middle">(</text>
<text transform="translate(771.8 610) scale(0.720 1.000)" font-size="20.64" text-anchor="middle">P</text>
<text transform="translate(781.7 610) scale(0.720 1.000)" font-size="20.64" text-anchor="middle">N</text>
<text transform="translate(791.6 610) scale(0.720 1.000)" font-size="20.64" text-anchor="middle">C</text>
<text transform="translate(811.4 610) scale(0.840 1.000)" font-size="20.64" text-anchor="middle">8</text>
<text transform="translate(821.3 610) scale(0.840 1.000)" font-size="20.64" text-anchor="middle">4</text>
<text transform="translate(831.2 610) scale(0.840 1.000)" font-size="20.64" text-anchor="middle">8</text>
<text transform="translate(841.1 610) scale(0.840 1.000)" font-size="20.64" text-anchor="middle">2</text>
<text transform="translate(851 610) scale(0.840 1.000)" font-size="20.64" text-anchor="middle">0</text>
<text transform="translate(858.3 607.4) scale(0.756 0.843)" font-size="20.64" text-anchor="middle">)</text>
<text transform="translate(731.2 686.5) scale(0.840 1.000)" font-size="18.17" text-anchor="middle">9</text>
<text transform="translate(741 686.5) scale(0.840 1.000)" font-size="18.17" text-anchor="middle">0</text>
<text transform="translate(750.9 686.5) scale(0.630 1.000)" font-size="18.17" text-anchor="middle">1</text>
<text transform="translate(760.7 686.5) scale(0.840 1.000)" font-size="18.17" text-anchor="middle">6</text>
<text transform="translate(770.5 686.5) scale(0.840 1.000)" font-size="18.17" text-anchor="middle">4</text>
<text transform="translate(780.3 685.7) scale(2.000 1.000)" font-size="18.17" text-anchor="middle">-</text>
<text transform="translate(790.1 686.5) scale(0.840 1.000)" font-size="18.17" text-anchor="middle">4</text>
<text transform="translate(799.9 686.5) scale(0.840 1.000)" font-size="18.17" text-anchor="middle">0</text>
<text transform="translate(809.7 686.5) scale(0.630 1.000)" font-size="18.17" text-anchor="middle">1</text>
<text transform="translate(819.5 686.5) scale(0.840 1.000)" font-size="18.17" text-anchor="middle">0</text>
<text transform="translate(829.3 686.5) scale(0.840 1.000)" font-size="18.17" text-anchor="middle">3</text>
<text transform="translate(842 684.3) scale(0.756 0.857)" font-size="18.17" text-anchor="middle">(</text>
<text transform="translate(849.3 686.5) scale(0.840 1.000)" font-size="18.17" text-anchor="middle">3</text>
<text transform="translate(856.5 684.3) scale(0.756 0.857)" font-size="18.17" text-anchor="middle">)</text>
<text transform="translate(747.3 891) scale(0.840 1.000)" font-size="17.88" text-anchor="middle">9</text>
<text transform="translate(757.2 891) scale(0.840 1.000)" font-size="17.88" text-anchor="middle">0</text>
<text transform="translate(767.1 891) scale(0.840 1.000)" font-size="17.88" text-anchor="middle">4</text>
<text transform="translate(777 891) scale(0.840 1.000)" font-size="17.88" text-anchor="middle">6</text>
<text transform="translate(786.9 891) scale(0.840 1.000)" font-size="17.88" text-anchor="middle">8</text>
<text transform="translate(796.8 890.2) scale(2.000 1.000)" font-size="17.88" text-anchor="middle">-</text>
<text transform="translate(806.7 891) scale(0.840 1.000)" font-size="17.88" text-anchor="middle">0</text>
<text transform="translate(816.6 891) scale(0.840 1.000)" font-size="17.88" text-anchor="middle">5</text>
<text transform="translate(826.5 891) scale(0.630 1.000)" font-size="17.88" text-anchor="middle">1</text>
<text transform="translate(836.4 891) scale(0.630 1.000)" font-size="17.88" text-anchor="middle">1</text>
<text transform="translate(846.3 891) scale(0.840 1.000)" font-size="17.88" text-anchor="middle">4</text>
<text transform="translate(750 943.6) scale(0.840 1.000)" font-size="18.31" text-anchor="middle">9</text>
<text transform="translate(759.7 943.6) scale(0.840 1.000)" font-size="18.31" text-anchor="middle">0</text>
<text transform="translate(769.5 943.6) scale(0.630 1.000)" font-size="18.31" text-anchor="middle">1</text>
<text transform="translate(779.2 943.6) scale(0.840 1.000)" font-size="18.31" text-anchor="middle">6</text>
<text transform="translate(789 943.6) scale(0.840 1.000)" font-size="18.31" text-anchor="middle">4</text>
<text transform="translate(798.7 942.8) scale(2.000 1.000)" font-size="18.31" text-anchor="middle">-</text>
<text transform="translate(808.4 943.6) scale(0.840 1.000)" font-size="18.31" text-anchor="middle">4</text>
<text transform="translate(818.2 943.6) scale(0.840 1.000)" font-size="18.31" text-anchor="middle">0</text>
<text transform="translate(827.9 943.6) scale(0.630 1.000)" font-size="18.31" text-anchor="middle">1</text>
<text transform="translate(837.7 943.6) scale(0.840 1.000)" font-size="18.31" text-anchor="middle">0</text>
<text transform="translate(847.4 943.6) scale(0.840 1.000)" font-size="18.31" text-anchor="middle">3</text>
<text transform="translate(902.2 898.7) scale(0.840 1.000)" font-size="19.91" text-anchor="middle">7</text>
<text transform="translate(914.2 898.7) scale(0.840 1.000)" font-size="19.91" text-anchor="middle">4</text>
<text transform="translate(926.2 898.7) scale(0.840 1.000)" font-size="19.91" text-anchor="middle">2</text>
<text transform="translate(938.2 898.7) scale(0.840 1.000)" font-size="19.91" text-anchor="middle">0</text>
<text transform="translate(950.2 898.7) scale(0.840 1.000)" font-size="19.91" text-anchor="middle">2</text>
<text transform="translate(962.2 898.7) scale(0.720 1.000)" font-size="19.91" text-anchor="middle">A</text>
<text transform="translate(757.2 998.7) scale(0.720 1.000)" font-size="17.59" text-anchor="middle">R</text>
<text transform="translate(767.2 998.7) scale(0.720 1.000)" font-size="17.59" text-anchor="middle">E</text>
<text transform="translate(777.2 998.7) scale(0.720 1.000)" font-size="17.59" text-anchor="middle">F</text>
<text transform="translate(787.2 998.7) scale(0.720 1.000)" font-size="17.59" text-anchor="middle">E</text>
<text transform="translate(797.2 998.7) scale(0.720 1.000)" font-size="17.59" text-anchor="middle">R</text>
<text transform="translate(817.2 998.7) scale(0.720 1.000)" font-size="17.59" text-anchor="middle">T</text>
<text transform="translate(827.2 998.7) scale(0.720 1.000)" font-size="17.59" text-anchor="middle">O</text>
<text transform="translate(757.1 1014.7) scale(0.720 1.000)" font-size="17.15" text-anchor="middle">F</text>
<text transform="translate(766.7 1014.7) scale(0.720 0.920)" font-size="17.15" text-anchor="middle">I</text>
<text transform="translate(776.4 1014.7) scale(0.720 1.000)" font-size="17.15" text-anchor="middle">G</text>
<text transform="translate(795.8 1014.7) scale(0.840 1.000)" font-size="17.15" text-anchor="middle">8</text>
<text transform="translate(805.4 1014.7) scale(0.840 1.000)" font-size="17.15" text-anchor="middle">4</text>
<text transform="translate(815.1 1013.9) scale(2.000 1.000)" font-size="17.15" text-anchor="middle">-</text>
<text transform="translate(824.8 1014.7) scale(0.840 1.000)" font-size="17.15" text-anchor="middle">0</text>
<text transform="translate(834.4 1014.7) scale(0.630 1.000)" font-size="17.15" text-anchor="middle">1</text>
<text transform="translate(759.8 1028.3) scale(0.756 0.852)" font-size="18.90" text-anchor="middle">(</text>
<text transform="translate(767.1 1030.6) scale(0.720 1.000)" font-size="18.90" text-anchor="middle">P</text>
<text transform="translate(776.9 1030.6) scale(0.720 1.000)" font-size="18.90" text-anchor="middle">N</text>
<text transform="translate(786.8 1030.6) scale(0.720 1.000)" font-size="18.90" text-anchor="middle">C</text>
<text transform="translate(806.5 1030.6) scale(0.840 1.000)" font-size="18.90" text-anchor="middle">8</text>
<text transform="translate(816.4 1030.6) scale(0.840 1.000)" font-size="18.90" text-anchor="middle">4</text>
<text transform="translate(826.3 1030.6) scale(0.840 1.000)" font-size="18.90" text-anchor="middle">8</text>
<text transform="translate(836.2 1030.6) scale(0.630 1.000)" font-size="18.90" text-anchor="middle">1</text>
<text transform="translate(846 1030.6) scale(0.840 1.000)" font-size="18.90" text-anchor="middle">0</text>
<text transform="translate(853.3 1028.3) scale(0.756 0.852)" font-size="18.90" text-anchor="middle">)</text>
<text transform="translate(1233.3 395.5) scale(0.720 1.000)" font-size="17.15" text-anchor="middle">R</text>
<text transform="translate(1243.2 395.5) scale(0.720 1.000)" font-size="17.15" text-anchor="middle">E</text>
<text transform="translate(1253.1 395.5) scale(0.720 1.000)" font-size="17.15" text-anchor="middle">F</text>
<text transform="translate(1263 395.5) scale(0.720 1.000)" font-size="17.15" text-anchor="middle">E</text>
<text transform="translate(1273 395.5) scale(0.720 1.000)" font-size="17.15" text-anchor="middle">R</text>
<text transform="translate(1292.8 395.5) scale(0.720 1.000)" font-size="17.15" text-anchor="middle">T</text>
<text transform="translate(1302.7 395.5) scale(0.720 1.000)" font-size="17.15" text-anchor="middle">O</text>
<text transform="translate(1233.3 411.6) scale(0.720 1.000)" font-size="17.30" text-anchor="middle">F</text>
<text transform="translate(1243.1 411.6) scale(0.720 0.920)" font-size="17.30" text-anchor="middle">I</text>
<text transform="translate(1253 411.6) scale(0.720 1.000)" font-size="17.30" text-anchor="middle">G</text>
<text transform="translate(1272.8 411.6) scale(0.840 1.000)" font-size="17.30" text-anchor="middle">7</text>
<text transform="translate(1282.7 411.6) scale(0.840 1.000)" font-size="17.30" text-anchor="middle">4</text>
<text transform="translate(1292.6 410.8) scale(2.000 1.000)" font-size="17.30" text-anchor="middle">-</text>
<text transform="translate(1302.5 411.6) scale(0.840 1.000)" font-size="17.30" text-anchor="middle">5</text>
<text transform="translate(1312.3 411.6) scale(0.840 1.000)" font-size="17.30" text-anchor="middle">6</text>
<text transform="translate(1235.8 426.7) scale(0.756 0.855)" font-size="18.46" text-anchor="middle">(</text>
<text transform="translate(1243 429) scale(0.720 1.000)" font-size="18.46" text-anchor="middle">P</text>
<text transform="translate(1252.8 429) scale(0.720 1.000)" font-size="18.46" text-anchor="middle">N</text>
<text transform="translate(1262.6 429) scale(0.720 1.000)" font-size="18.46" text-anchor="middle">C</text>
<text transform="translate(1282.2 429) scale(0.840 1.000)" font-size="18.46" text-anchor="middle">7</text>
<text transform="translate(1292 429) scale(0.840 1.000)" font-size="18.46" text-anchor="middle">4</text>
<text transform="translate(1301.9 429) scale(0.630 1.000)" font-size="18.46" text-anchor="middle">1</text>
<text transform="translate(1311.7 429) scale(0.840 1.000)" font-size="18.46" text-anchor="middle">3</text>
<text transform="translate(1321.5 429) scale(0.840 1.000)" font-size="18.46" text-anchor="middle">0</text>
<text transform="translate(1331.3 429) scale(0.720 1.000)" font-size="18.46" text-anchor="middle">A</text>
<text transform="translate(1343.9 426.7) scale(0.756 0.855)" font-size="18.46" text-anchor="middle">(</text>
<text transform="translate(1351.2 429) scale(0.720 1.000)" font-size="18.46" text-anchor="middle">R</text>
<text transform="translate(1361 429) scale(0.720 1.000)" font-size="18.46" text-anchor="middle">H</text>
<text transform="translate(1368.2 426.7) scale(0.756 0.855)" font-size="18.46" text-anchor="middle">)</text>
<text transform="translate(1378.3 426.7) scale(0.756 0.855)" font-size="18.46" text-anchor="middle">)</text>
<text transform="translate(1235.8 442.4) scale(0.756 0.855)" font-size="18.46" text-anchor="middle">(</text>
<text transform="translate(1243 444.7) scale(0.720 1.000)" font-size="18.46" text-anchor="middle">P</text>
<text transform="translate(1252.8 444.7) scale(0.720 1.000)" font-size="18.46" text-anchor="middle">N</text>
<text transform="translate(1262.6 444.7) scale(0.720 1.000)" font-size="18.46" text-anchor="middle">C</text>
<text transform="translate(1282.2 444.7) scale(0.840 1.000)" font-size="18.46" text-anchor="middle">7</text>
<text transform="translate(1292 444.7) scale(0.840 1.000)" font-size="18.46" text-anchor="middle">4</text>
<text transform="translate(1301.9 444.7) scale(0.630 1.000)" font-size="18.46" text-anchor="middle">1</text>
<text transform="translate(1311.7 444.7) scale(0.840 1.000)" font-size="18.46" text-anchor="middle">4</text>
<text transform="translate(1321.5 444.7) scale(0.840 1.000)" font-size="18.46" text-anchor="middle">0</text>
<text transform="translate(1331.3 444.7) scale(0.720 1.000)" font-size="18.46" text-anchor="middle">A</text>
<text transform="translate(1343.9 442.4) scale(0.756 0.855)" font-size="18.46" text-anchor="middle">(</text>
<text transform="translate(1351.2 444.7) scale(0.720 1.000)" font-size="18.46" text-anchor="middle">L</text>
<text transform="translate(1361 444.7) scale(0.720 1.000)" font-size="18.46" text-anchor="middle">H</text>
<text transform="translate(1368.2 442.4) scale(0.756 0.855)" font-size="18.46" text-anchor="middle">)</text>
<text transform="translate(1378.3 442.4) scale(0.756 0.855)" font-size="18.46" text-anchor="middle">)</text>
<text transform="translate(1274.7 547.3) scale(0.840 1.000)" font-size="17.15" text-anchor="middle">9</text>
<text transform="translate(1284.5 547.3) scale(0.840 1.000)" font-size="17.15" text-anchor="middle">0</text>
<text transform="translate(1294.4 547.3) scale(0.840 1.000)" font-size="17.15" text-anchor="middle">4</text>
<text transform="translate(1304.3 547.3) scale(0.840 1.000)" font-size="17.15" text-anchor="middle">6</text>
<text transform="translate(1314.1 547.3) scale(0.840 1.000)" font-size="17.15" text-anchor="middle">8</text>
<text transform="translate(1324 546.5) scale(2.000 1.000)" font-size="17.15" text-anchor="middle">-</text>
<text transform="translate(1333.9 547.3) scale(0.840 1.000)" font-size="17.15" text-anchor="middle">0</text>
<text transform="translate(1343.7 547.3) scale(0.840 1.000)" font-size="17.15" text-anchor="middle">5</text>
<text transform="translate(1353.6 547.3) scale(0.630 1.000)" font-size="17.15" text-anchor="middle">1</text>
<text transform="translate(1363.5 547.3) scale(0.630 1.000)" font-size="17.15" text-anchor="middle">1</text>
<text transform="translate(1373.3 547.3) scale(0.840 1.000)" font-size="17.15" text-anchor="middle">4</text>
<text transform="translate(1420.1 537) scale(0.840 1.000)" font-size="20.78" text-anchor="middle">7</text>
<text transform="translate(1432 537) scale(0.840 1.000)" font-size="20.78" text-anchor="middle">4</text>
<text transform="translate(1443.8 537) scale(0.840 1.000)" font-size="20.78" text-anchor="middle">2</text>
<text transform="translate(1455.7 537) scale(0.840 1.000)" font-size="20.78" text-anchor="middle">0</text>
<text transform="translate(1467.6 537) scale(0.840 1.000)" font-size="20.78" text-anchor="middle">3</text>
<text transform="translate(1479.5 537) scale(0.720 1.000)" font-size="20.78" text-anchor="middle">A</text>
<text transform="translate(1494.8 534.4) scale(0.756 0.842)" font-size="20.78" text-anchor="middle">(</text>
<text transform="translate(1503.6 537) scale(0.720 1.000)" font-size="20.78" text-anchor="middle">R</text>
<text transform="translate(1515.4 537) scale(0.720 1.000)" font-size="20.78" text-anchor="middle">H</text>
<text transform="translate(1524.2 534.4) scale(0.756 0.842)" font-size="20.78" text-anchor="middle">)</text>
<text transform="translate(1420.1 556.3) scale(0.840 1.000)" font-size="20.78" text-anchor="middle">7</text>
<text transform="translate(1432 556.3) scale(0.840 1.000)" font-size="20.78" text-anchor="middle">4</text>
<text transform="translate(1443.8 556.3) scale(0.840 1.000)" font-size="20.78" text-anchor="middle">2</text>
<text transform="translate(1455.7 556.3) scale(0.840 1.000)" font-size="20.78" text-anchor="middle">0</text>
<text transform="translate(1467.6 556.3) scale(0.840 1.000)" font-size="20.78" text-anchor="middle">4</text>
<text transform="translate(1479.5 556.3) scale(0.720 1.000)" font-size="20.78" text-anchor="middle">A</text>
<text transform="translate(1494.8 553.7) scale(0.756 0.842)" font-size="20.78" text-anchor="middle">(</text>
<text transform="translate(1503.6 556.3) scale(0.720 1.000)" font-size="20.78" text-anchor="middle">L</text>
<text transform="translate(1515.4 556.3) scale(0.720 1.000)" font-size="20.78" text-anchor="middle">H</text>
<text transform="translate(1524.2 553.7) scale(0.756 0.842)" font-size="20.78" text-anchor="middle">)</text>
<text transform="translate(1274.6 595.3) scale(0.840 1.000)" font-size="17.15" text-anchor="middle">9</text>
<text transform="translate(1284.4 595.3) scale(0.840 1.000)" font-size="17.15" text-anchor="middle">0</text>
<text transform="translate(1294.2 595.3) scale(0.630 1.000)" font-size="17.15" text-anchor="middle">1</text>
<text transform="translate(1303.9 595.3) scale(0.840 1.000)" font-size="17.15" text-anchor="middle">6</text>
<text transform="translate(1313.7 595.3) scale(0.840 1.000)" font-size="17.15" text-anchor="middle">4</text>
<text transform="translate(1323.5 594.5) scale(2.000 1.000)" font-size="17.15" text-anchor="middle">-</text>
<text transform="translate(1333.3 595.3) scale(0.840 1.000)" font-size="17.15" text-anchor="middle">4</text>
<text transform="translate(1343.1 595.3) scale(0.840 1.000)" font-size="17.15" text-anchor="middle">0</text>
<text transform="translate(1352.8 595.3) scale(0.630 1.000)" font-size="17.15" text-anchor="middle">1</text>
<text transform="translate(1362.6 595.3) scale(0.840 1.000)" font-size="17.15" text-anchor="middle">0</text>
<text transform="translate(1372.4 595.3) scale(0.840 1.000)" font-size="17.15" text-anchor="middle">3</text>
<text transform="translate(1285.2 662.5) scale(0.720 1.000)" font-size="16.42" text-anchor="middle">R</text>
<text transform="translate(1295 662.5) scale(0.720 1.000)" font-size="16.42" text-anchor="middle">E</text>
<text transform="translate(1304.8 662.5) scale(0.720 1.000)" font-size="16.42" text-anchor="middle">F</text>
<text transform="translate(1314.6 662.5) scale(0.720 1.000)" font-size="16.42" text-anchor="middle">E</text>
<text transform="translate(1324.4 662.5) scale(0.720 1.000)" font-size="16.42" text-anchor="middle">R</text>
<text transform="translate(1344 662.5) scale(0.720 1.000)" font-size="16.42" text-anchor="middle">T</text>
<text transform="translate(1353.8 662.5) scale(0.720 1.000)" font-size="16.42" text-anchor="middle">O</text>
<text transform="translate(1285.1 679.5) scale(0.720 1.000)" font-size="17.15" text-anchor="middle">F</text>
<text transform="translate(1294.7 679.5) scale(0.720 0.920)" font-size="17.15" text-anchor="middle">I</text>
<text transform="translate(1304.3 679.5) scale(0.720 1.000)" font-size="17.15" text-anchor="middle">G</text>
<text transform="translate(1323.4 679.5) scale(0.840 1.000)" font-size="17.15" text-anchor="middle">8</text>
<text transform="translate(1333 679.5) scale(0.840 1.000)" font-size="17.15" text-anchor="middle">4</text>
<text transform="translate(1342.6 678.7) scale(2.000 1.000)" font-size="17.15" text-anchor="middle">-</text>
<text transform="translate(1352.2 679.5) scale(0.840 1.000)" font-size="17.15" text-anchor="middle">0</text>
<text transform="translate(1361.8 679.5) scale(0.630 1.000)" font-size="17.15" text-anchor="middle">1</text>
<text transform="translate(1287.5 693.5) scale(0.756 0.854)" font-size="18.60" text-anchor="middle">(</text>
<text transform="translate(1294.7 695.8) scale(0.720 1.000)" font-size="18.60" text-anchor="middle">P</text>
<text transform="translate(1304.6 695.8) scale(0.720 1.000)" font-size="18.60" text-anchor="middle">N</text>
<text transform="translate(1314.4 695.8) scale(0.720 1.000)" font-size="18.60" text-anchor="middle">C</text>
<text transform="translate(1334 695.8) scale(0.840 1.000)" font-size="18.60" text-anchor="middle">8</text>
<text transform="translate(1343.8 695.8) scale(0.840 1.000)" font-size="18.60" text-anchor="middle">4</text>
<text transform="translate(1353.6 695.8) scale(0.840 1.000)" font-size="18.60" text-anchor="middle">8</text>
<text transform="translate(1363.4 695.8) scale(0.630 1.000)" font-size="18.60" text-anchor="middle">1</text>
<text transform="translate(1373.3 695.8) scale(0.840 1.000)" font-size="18.60" text-anchor="middle">0</text>
<text transform="translate(1380.5 693.5) scale(0.756 0.854)" font-size="18.60" text-anchor="middle">)</text>
<text transform="translate(1482.1 1081.7) scale(0.840 1.000)" font-size="21.37" text-anchor="middle">7</text>
<text transform="translate(1494.1 1081.7) scale(0.840 1.000)" font-size="21.37" text-anchor="middle">4</text>
<text transform="translate(1506.1 1081.7) scale(0.840 1.000)" font-size="21.37" text-anchor="middle">0</text>
<text transform="translate(1518.1 1081.7) scale(0.840 1.000)" font-size="21.37" text-anchor="middle">4</text>
<text transform="translate(1530 1081.7) scale(0.840 1.000)" font-size="21.37" text-anchor="middle">6</text>
<text transform="translate(1542 1081.7) scale(0.840 1.000)" font-size="21.37" text-anchor="middle">4</text>
<text transform="translate(1554 1080.9) scale(2.000 1.000)" font-size="21.37" text-anchor="middle">-</text>
<text transform="translate(1566 1081.7) scale(0.720 1.000)" font-size="21.37" text-anchor="middle">B</text>
<text style="stroke-width:0.3px" x="552" y="379.4" font-size="24.5" transform="translate(552 0) scale(0.86 1) translate(-552 0)">RH</text>
<text style="stroke-width:0.3px" x="553" y="762.8" font-size="24.2" transform="translate(553 0) scale(0.86 1) translate(-553 0)">LH</text>
<text style="stroke-width:0.3px" x="33.5" y="1073.9" font-size="20.3" transform="translate(33.5 0) scale(0.86 1) translate(-33.5 0)">H</text>
</g>
</svg>
</body></html>
